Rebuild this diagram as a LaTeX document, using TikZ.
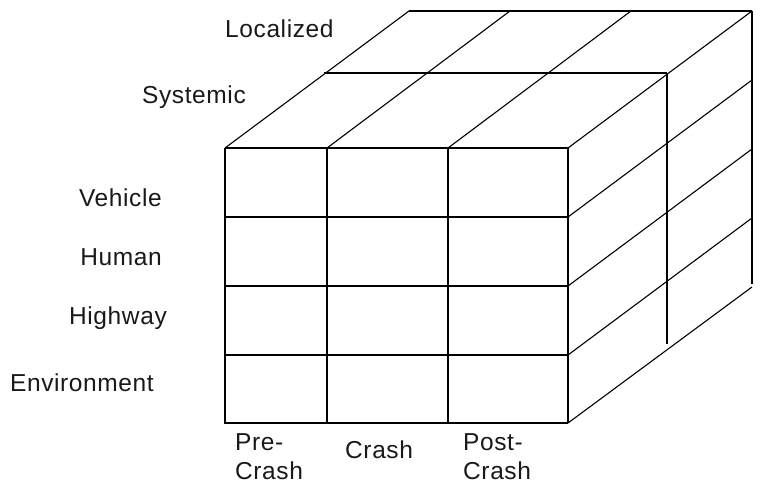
\documentclass[tikz,border=0pt]{standalone}
\usepackage{fontspec}
\setmainfont{Liberation Sans}[LetterSpace=2.5]
\begin{document}
\begin{tikzpicture}[x=1pt,y=-1pt,
  gridline/.style={draw=black,line width=1.1pt},
  thickline/.style={draw=black,line width=2.2pt},
  lab/.style={font=\fontsize{24.5}{29}\selectfont, inner sep=0pt, text=black!90, align=left}]
\useasboundingbox (0,0) rectangle (764,490);
% front face corners
\coordinate (f1) at (225,148);
\coordinate (f2) at (327,148);
\coordinate (f3) at (448,148);
\coordinate (f4) at (568,148);
% middle layer
\coordinate (m1) at (324,73);
\coordinate (m2) at (426,73);
\coordinate (m3) at (547,73);
\coordinate (m4) at (667,73);
\coordinate (m5) at (667,344);
% back layer
\coordinate (b1) at (409,11);
\coordinate (b2) at (510,11);
\coordinate (b3) at (631,11);
\coordinate (b4) at (752,11);
\coordinate (b5) at (752,284);
% right side row ends
\coordinate (r1) at (568,217);
\coordinate (r2) at (568,286);
\coordinate (r3) at (568,355);
\coordinate (r4) at (568,423);
\coordinate (s1) at (752,80);
\coordinate (s2) at (752,149);
\coordinate (s3) at (752,218);
\coordinate (s4) at (752,287);
% front grid
\draw[gridline] (f1) -- (f4);
\draw[gridline] (225,217) -- (r1);
\draw[gridline] (225,286) -- (r2);
\draw[gridline] (225,355) -- (r3);
\draw[gridline] (f1) -- (225,423);
\draw[gridline] (f2) -- (327,423);
\draw[gridline] (f3) -- (448,423);
\draw[gridline] (f4) -- (r4);
\draw[thickline] (224,423) -- (r4);
% top surface
\draw[gridline] (f1) -- (b1);
\draw[gridline] (f2) -- (b2);
\draw[gridline] (f3) -- (b3);
\draw[gridline] (f4) -- (b4);
\draw[gridline] (m1) -- (m4);
\draw[gridline] (b1) -- (b4);
% right side
\draw[gridline] (m4) -- (m5);
\draw[gridline] (b4) -- (b5);
\draw[gridline] (r1) -- (s1);
\draw[gridline] (r2) -- (s2);
\draw[gridline] (r3) -- (s3);
\draw[gridline] (r4) -- (s4);
% labels
\node[lab,anchor=west] (loc) at (225,29) {Localized};
\node[lab,anchor=east] (sys) at (246,97) {Systemic};
\node[lab,anchor=east] (veh) at (162,198) {Vehicle};
\node[lab,anchor=east] (hum) at (162,257) {Human};
\node[lab,anchor=east] (hwy) at (167,318) {Highway};
\node[lab,anchor=east] (env) at (154,383) {Environment};
\node[lab,anchor=west] (pre) at (235,457) {Pre-\\Crash};
\node[lab,anchor=west] (cr) at (345,450) {Crash};
\node[lab,anchor=west] (post) at (463,457) {Post-\\Crash};
\end{tikzpicture}
\end{document}
